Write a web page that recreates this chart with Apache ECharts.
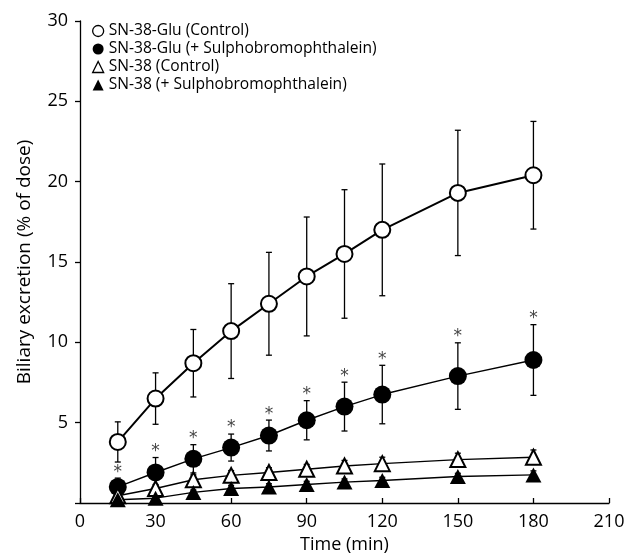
<!DOCTYPE html>
<html>
<head>
<meta charset="utf-8">
<script src="https://cdn.jsdelivr.net/npm/echarts@6/dist/echarts.min.js"></script>
<style>html,body{margin:0;padding:0;background:#fff}#c{width:627px;height:555px}</style>
</head>
<body>
<div id="c"></div>
<script>
// ---- data ----
var times = [15, 30, 45, 60, 75, 90, 105, 120, 150, 180];
var seriesNames = ['SN-38-Glu (Control)', 'SN-38-Glu (+ Sulphobromophthalein)', 'SN-38 (Control)', 'SN-38 (+ Sulphobromophthalein)'];
var gluCtrl = [3.8, 6.5, 8.7, 10.7, 12.4, 14.1, 15.5, 17.0, 19.3, 20.4];
var gluCtrlSD = [1.25, 1.6, 2.1, 2.95, 3.2, 3.7, 4.0, 4.1, 3.9, 3.35];
var gluSBP = [1.0, 1.9, 2.75, 3.45, 4.2, 5.15, 6.0, 6.75, 7.9, 8.9];
var gluSBPSD = [0.55, 0.93, 0.88, 0.84, 0.96, 1.22, 1.52, 1.82, 2.07, 2.2];
var gluSBPSig = [1, 1, 1, 1, 1, 1, 1, 1, 1, 1];
var snCtrl = [0.45, 0.9, 1.45, 1.72, 1.9, 2.1, 2.3, 2.45, 2.7, 2.85];
var snCtrlSD = [0.15, 0.25, 0.3, 0.3, 0.3, 0.3, 0.35, 0.4, 0.4, 0.45];
var snSBP = [0.2, 0.3, 0.66, 0.9, 1.0, 1.15, 1.3, 1.4, 1.65, 1.75];
var snSBPSD = [0.1, 0.15, 0.15, 0.2, 0.2, 0.2, 0.2, 0.2, 0.2, 0.25];
var xTicks = [0, 30, 60, 90, 120, 150, 180, 210];
var yTicks = [5, 10, 15, 20, 25, 30];

// ---- build ----
var FONT = '"Open Sans", "Noto Sans", sans-serif';
function pairs(v) { return times.map(function (t, i) { return [t, v[i]]; }); }
function errData(v, sd, sig) { return times.map(function (t, i) { return [t, v[i], sd[i], sig ? sig[i] : 0]; }); }
function errSeries(v, sd, sig) {
  return {
    type: 'custom',
    silent: true,
    data: errData(v, sd, sig),
    encode: { x: 0, y: 1 },
    renderItem: function (params, api) {
      var x = api.value(0), m = api.value(1), s = api.value(2), g = api.value(3);
      var top = api.coord([x, m + s]);
      var bot = api.coord([x, m - s]);
      var cw = 3;
      var st = { stroke: '#000', lineWidth: 1.3 };
      var children = [
        { type: 'line', shape: { x1: top[0], y1: top[1], x2: bot[0], y2: bot[1] }, style: st },
        { type: 'line', shape: { x1: top[0] - cw, y1: top[1], x2: top[0] + cw, y2: top[1] }, style: st },
        { type: 'line', shape: { x1: bot[0] - cw, y1: bot[1], x2: bot[0] + cw, y2: bot[1] }, style: st }
      ];
      if (g) {
        children.push({ type: 'text', style: { text: '*', x: top[0], y: top[1] - 6, fill: '#444', font: '17px "DejaVu Sans", sans-serif', align: 'center', verticalAlign: 'middle' } });
      }
      return { type: 'group', children: children };
    },
    z: 1
  };
}
function lineSeries(name, v, symbol, fill, size, lw) {
  return {
    name: name, type: 'line', data: pairs(v), symbol: symbol, symbolSize: size,
    lineStyle: { color: '#000', width: lw },
    itemStyle: { color: fill, borderColor: '#000', borderWidth: fill === '#fff' ? 2 : 0 },
    emphasis: { disabled: true }, animation: false, z: 3
  };
}

var chart = echarts.init(document.getElementById('c'), null, { renderer: 'canvas' });
chart.setOption({
  animation: false,
  backgroundColor: '#fff',
  textStyle: { fontFamily: FONT },
  grid: { left: 80, right: 18, top: 21, bottom: 52, containLabel: false, outerBoundsMode: 'none' },
  legend: {
    orient: 'vertical', left: 92, top: 22, itemGap: 0, itemWidth: 11, itemHeight: 11, padding: 0,
    selectedMode: false,
    textStyle: { fontSize: 15.6, color: '#000', fontFamily: FONT, lineHeight: 18 },
    data: [
      { name: seriesNames[0], icon: 'circle', itemStyle: { color: '#fff', borderColor: '#000', borderWidth: 1.3 } },
      { name: seriesNames[1], icon: 'circle', itemStyle: { color: '#000', borderWidth: 0 } },
      { name: seriesNames[2], icon: 'triangle', itemStyle: { color: '#fff', borderColor: '#000', borderWidth: 1.3 } },
      { name: seriesNames[3], icon: 'triangle', itemStyle: { color: '#000', borderWidth: 0 } }
    ]
  },
  xAxis: {
    type: 'value', min: xTicks[0], max: xTicks[xTicks.length - 1], interval: 30,
    name: 'Time (min)', nameLocation: 'middle', nameGap: 33,
    nameTextStyle: { fontSize: 18, color: '#000', fontFamily: FONT },
    axisLine: { lineStyle: { color: '#000', width: 1.3 } },
    axisTick: { inside: true, length: 5, lineStyle: { color: '#000', width: 1.3 } },
    axisLabel: { fontSize: 18, color: '#000', margin: 10, fontFamily: FONT },
    splitLine: { show: false }
  },
  yAxis: {
    type: 'value', min: 0, max: yTicks[yTicks.length - 1], interval: 5,
    name: 'Biliary excretion (% of dose)', nameLocation: 'middle', nameGap: 46,
    nameTextStyle: { fontSize: 19, color: '#000', fontFamily: FONT },
    axisLine: { lineStyle: { color: '#000', width: 1.3 } },
    axisTick: { inside: false, length: 5, lineStyle: { color: '#000', width: 1.3 } },
    axisLabel: { fontSize: 18, color: '#000', margin: 12, fontFamily: FONT,
      formatter: function (v) { return yTicks.indexOf(v) >= 0 ? String(v) : ''; } },
    splitLine: { show: false }
  },
  series: [
    errSeries(gluCtrl, gluCtrlSD),
    errSeries(gluSBP, gluSBPSD, gluSBPSig),
    errSeries(snCtrl, snCtrlSD),
    errSeries(snSBP, snSBPSD),
    lineSeries(seriesNames[0], gluCtrl, 'circle', '#fff', 16, 2),
    lineSeries(seriesNames[1], gluSBP, 'circle', '#000', 18, 1.4),
    lineSeries(seriesNames[2], snCtrl, 'triangle', '#fff', [15, 15], 1.4),
    lineSeries(seriesNames[3], snSBP, 'triangle', '#000', [16, 15], 1.4)
  ]
});
</script>
</body>
</html>
